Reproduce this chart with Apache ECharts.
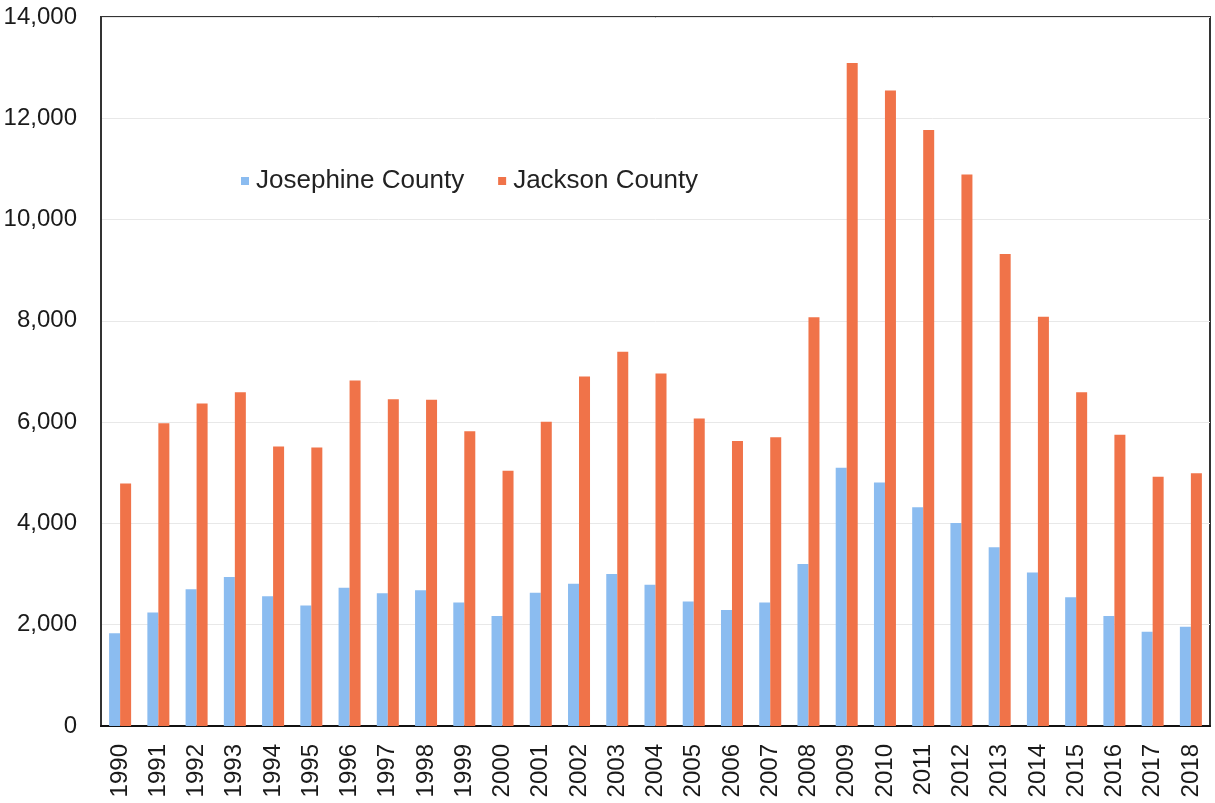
<!DOCTYPE html>
<html>
<head>
<meta charset="utf-8">
<script src="https://cdn.jsdelivr.net/npm/echarts@6/dist/echarts.min.js"></script>
<style>
  html, body { margin: 0; padding: 0; background: #ffffff; }
  #chart { width: 1215px; height: 803px; }
</style>
</head>
<body>
<div id="chart"></div>
<script>
// Years shown along the horizontal axis
const years = ['1990','1991','1992','1993','1994','1995','1996','1997','1998','1999',
  '2000','2001','2002','2003','2004','2005','2006','2007','2008','2009',
  '2010','2011','2012','2013','2014','2015','2016','2017','2018'];

// Annual counts per county
const josephine = [1830, 2240, 2700, 2940, 2560, 2380, 2730, 2620, 2680, 2440,
  2170, 2630, 2810, 3000, 2790, 2460, 2290, 2440, 3200, 5100,
  4810, 4320, 4010, 3530, 3030, 2540, 2170, 1860, 1960];
const jackson = [4790, 5980, 6370, 6590, 5520, 5500, 6820, 6450, 6440, 5820,
  5040, 6010, 6900, 7390, 6960, 6070, 5630, 5700, 8070, 13090,
  12550, 11770, 10890, 9320, 8080, 6590, 5750, 4920, 4990];

const seriesNames = ['Josephine County', 'Jackson County'];
const yTicks = { min: 0, max: 14000, interval: 2000 };

const chart = echarts.init(document.getElementById('chart'), null, { renderer: 'canvas' });
const font = 'Liberation Sans, Arial, sans-serif';

chart.setOption({
  animation: false,
  backgroundColor: '#ffffff',
  textStyle: { fontFamily: font },
  legend: {
    data: seriesNames,
    left: 236,
    top: 163,
    icon: 'rect',
    itemWidth: 8,
    itemHeight: 8,
    itemGap: 34,
    textStyle: { fontSize: 26, color: '#222222', fontFamily: font, padding: [0, 0, 0, 2] }
  },
  grid: {
    left: 101, right: 5, top: 17, bottom: 77,
    show: true,
    borderColor: '#333333',
    borderWidth: 2,
    containLabel: false
  },
  xAxis: {
    type: 'category',
    data: years,
    axisLine: { show: true, lineStyle: { color: '#111111', width: 2 } },
    axisTick: { show: false },
    axisLabel: {
      rotate: 90,
      interval: 0,
      fontSize: 24,
      color: '#1a1a1a',
      margin: 18,
      fontFamily: font
    }
  },
  yAxis: {
    type: 'value',
    min: yTicks.min,
    max: yTicks.max,
    interval: yTicks.interval,
    axisLine: { show: true, lineStyle: { color: '#333333', width: 2 } },
    axisTick: { show: false },
    splitLine: { show: true, lineStyle: { color: '#e8e8e8', width: 1 } },
    axisLabel: {
      fontSize: 24,
      color: '#1a1a1a',
      margin: 24,
      fontFamily: font,
      formatter: v => v.toLocaleString('en-US')
    }
  },
  series: [
    {
      name: seriesNames[0],
      type: 'bar',
      data: josephine,
      barWidth: 11,
      barGap: '0%',
      itemStyle: { color: '#8bbcf0' }
    },
    {
      name: seriesNames[1],
      type: 'bar',
      data: jackson,
      barWidth: 11,
      barGap: '0%',
      itemStyle: { color: '#f07349' }
    }
  ]
});
</script>
</body>
</html>
